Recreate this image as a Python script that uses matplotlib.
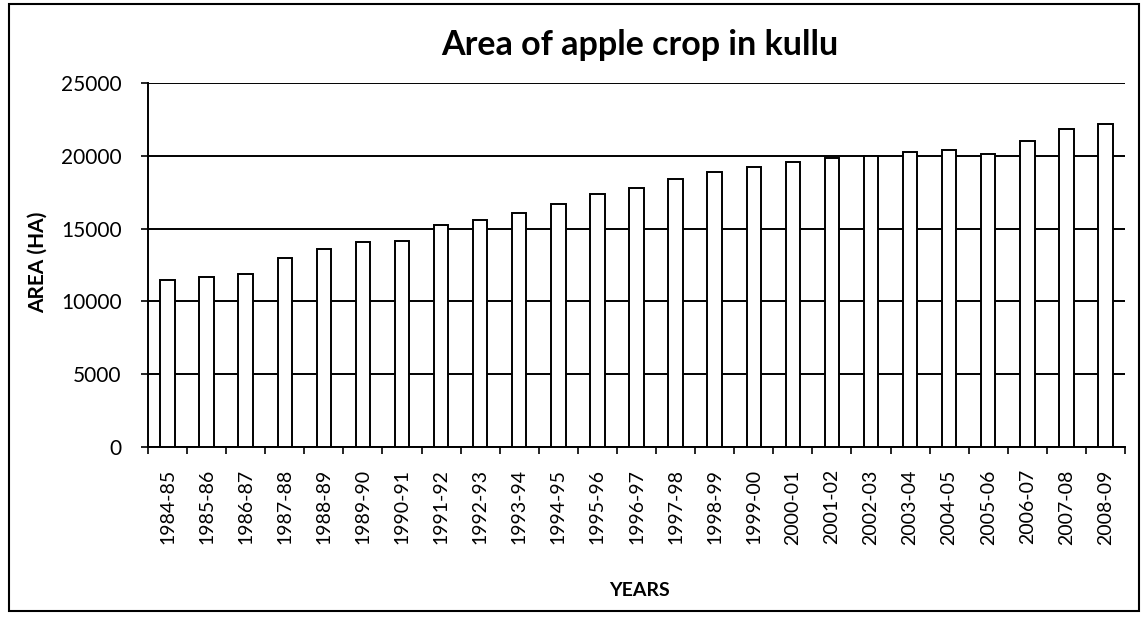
import matplotlib
matplotlib.use("Agg")
import matplotlib.pyplot as plt
from matplotlib.patches import Rectangle

years = ["1984-85", "1985-86", "1986-87", "1987-88", "1988-89", "1989-90", "1990-91",
         "1991-92", "1992-93", "1993-94", "1994-95", "1995-96", "1996-97", "1997-98",
         "1998-99", "1999-00", "2000-01", "2001-02", "2002-03", "2003-04", "2004-05",
         "2005-06", "2006-07", "2007-08", "2008-09"]
area = [11500, 11650, 11900, 13000, 13600, 14050, 14150, 15250, 15600, 16050, 16700,
        17350, 17800, 18400, 18900, 19200, 19550, 19850, 20000, 20250, 20400, 20150,
        21050, 21850, 22200]
yticks = [0, 5000, 10000, 15000, 20000, 25000]

plt.rcParams['font.family'] = ['Lato', 'DejaVu Sans']

fig = plt.figure(figsize=(11.44, 6.18), dpi=100)
ax = fig.add_axes([148/1144, 1-447/618, (1125-148)/1144, (447-83)/618])

x = list(range(len(years)))
ax.bar(x, area, width=0.37, color='white', edgecolor='black', linewidth=1.4, zorder=3)

ax.set_xlim(-0.5, len(years) - 0.5)
ax.set_ylim(0, 25000)
ax.set_yticks(yticks)
ax.set_yticklabels([str(v) for v in yticks], fontsize=15)
ax.yaxis.grid(True, color='black', linewidth=1.4, zorder=0)
ax.set_axisbelow(True)

ax.set_xticks(x)
ax.set_xticklabels(years, rotation=90, fontsize=14)
ax.set_xticks([i - 0.5 for i in range(len(years) + 1)], minor=True)
ax.tick_params(axis='x', which='major', length=0, pad=16)
ax.tick_params(axis='x', which='minor', length=5, width=1.2, direction='out')
ax.tick_params(axis='y', length=5, width=1.2, direction='out', pad=14)

for s in ['top', 'right']:
    ax.spines[s].set_visible(False)
for s in ['left', 'bottom']:
    ax.spines[s].set_linewidth(1.4)
    ax.spines[s].set_color('black')

fig.text(0.559, 1-45/618, "Area of apple crop in kullu", ha='center', va='center',
         fontsize=24.5, fontweight='bold')
fig.text(0.559, 1-590/618, "YEARS", ha='center', va='center', fontsize=14, fontweight='bold')
fig.text(38/1144, 1-262/618, "AREA (HA)", ha='center', va='center', rotation=90,
         fontsize=15, fontweight='bold')

fig.patches.append(Rectangle((9/1144, 1-611/618), (1139-9)/1144, (611-4)/618,
                             transform=fig.transFigure, fill=False, edgecolor='black',
                             linewidth=1.5))

fig.savefig("out.png", dpi=100)
